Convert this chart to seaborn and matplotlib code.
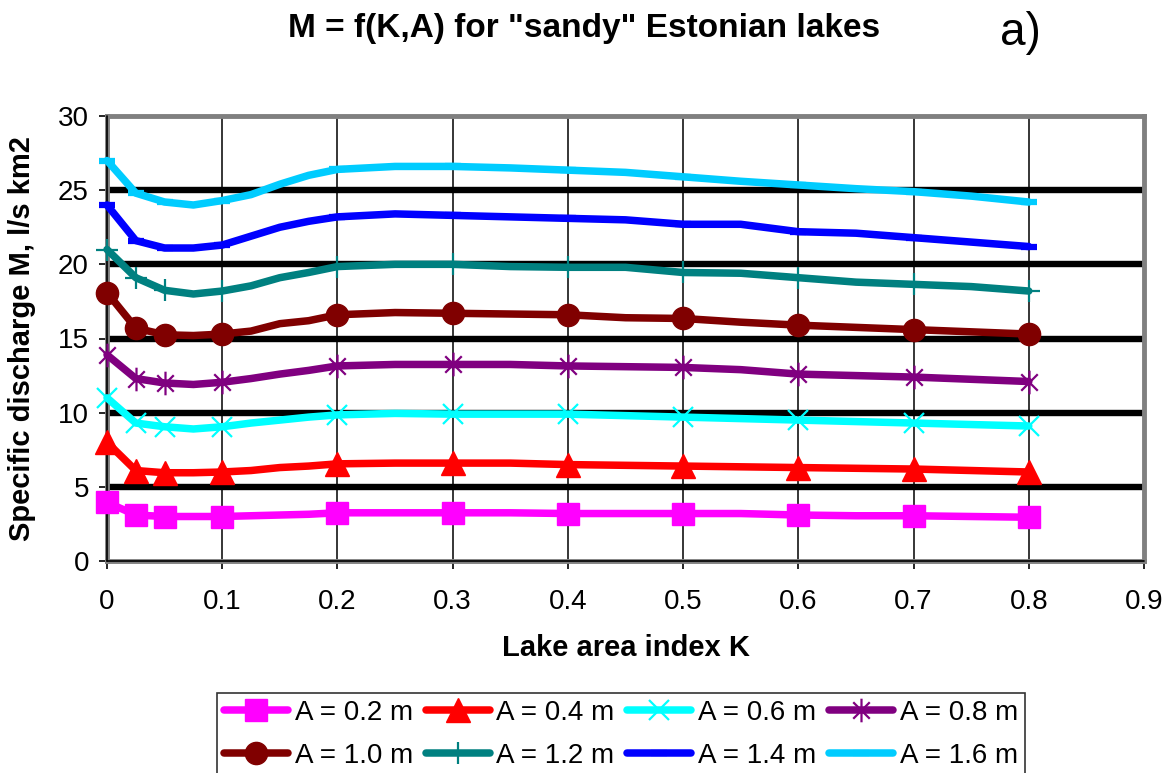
import numpy as np
import pandas as pd
import matplotlib
matplotlib.use("Agg")
import matplotlib.pyplot as plt
from matplotlib.path import Path
import seaborn as sns

# ---------------- data ----------------
K = [0, 0.025, 0.05, 0.075, 0.1, 0.125, 0.15, 0.175, 0.2, 0.25, 0.3,
     0.35, 0.4, 0.45, 0.5, 0.55, 0.6, 0.65, 0.7, 0.75, 0.8]

M_02 = [3.95, 3.1, 3.0, 3.0, 3.0, 3.05, 3.1, 3.15, 3.25, 3.25, 3.25,
        3.25, 3.2, 3.2, 3.2, 3.2, 3.1, 3.05, 3.05, 3.0, 2.95]
M_04 = [8.0, 6.1, 5.95, 5.95, 6.0, 6.1, 6.3, 6.4, 6.55, 6.6, 6.6,
        6.6, 6.5, 6.45, 6.4, 6.35, 6.3, 6.25, 6.2, 6.1, 6.0]
M_06 = [11.0, 9.3, 9.05, 8.9, 9.05, 9.3, 9.5, 9.7, 9.85, 9.95, 9.9,
        9.9, 9.9, 9.8, 9.7, 9.6, 9.5, 9.4, 9.3, 9.2, 9.1]
M_08 = [13.9, 12.3, 12.0, 11.9, 12.05, 12.3, 12.6, 12.85, 13.15, 13.25, 13.25,
        13.25, 13.15, 13.1, 13.05, 12.9, 12.6, 12.5, 12.4, 12.25, 12.1]
M_10 = [18.1, 15.7, 15.25, 15.2, 15.3, 15.5, 16.0, 16.2, 16.6, 16.75, 16.7,
        16.65, 16.6, 16.4, 16.35, 16.1, 15.9, 15.75, 15.6, 15.45, 15.3]
M_12 = [21.0, 19.1, 18.25, 18.0, 18.2, 18.55, 19.1, 19.45, 19.85, 20.0, 20.0,
        19.85, 19.8, 19.8, 19.45, 19.4, 19.1, 18.8, 18.65, 18.5, 18.2]
M_14 = [24.0, 21.6, 21.1, 21.1, 21.3, 21.9, 22.5, 22.9, 23.2, 23.4, 23.3,
        23.2, 23.1, 23.0, 22.7, 22.7, 22.2, 22.1, 21.8, 21.5, 21.2]
M_16 = [27.0, 24.8, 24.2, 24.0, 24.3, 24.7, 25.4, 26.0, 26.4, 26.6, 26.6,
        26.5, 26.35, 26.2, 25.9, 25.6, 25.35, 25.1, 24.9, 24.6, 24.2]

series_labels = ["A = 0.2 m", "A = 0.4 m", "A = 0.6 m", "A = 0.8 m",
                 "A = 1.0 m", "A = 1.2 m", "A = 1.4 m", "A = 1.6 m"]
series_values = [M_02, M_04, M_06, M_08, M_10, M_12, M_14, M_16]

marker_K = [0, 0.025, 0.05, 0.1, 0.2, 0.3, 0.4, 0.5, 0.6, 0.7, 0.8]

x_ticks = [0, 0.1, 0.2, 0.3, 0.4, 0.5, 0.6, 0.7, 0.8, 0.9]
x_tick_labels = ["0", "0.1", "0.2", "0.3", "0.4", "0.5", "0.6", "0.7", "0.8", "0.9"]
y_ticks = [0, 5, 10, 15, 20, 25, 30]

# ---------------- styles ----------------
star = Path([(-0.7, -0.7), (0.7, 0.7), (-0.7, 0.7), (0.7, -0.7), (0, -1), (0, 1)],
            [Path.MOVETO, Path.LINETO, Path.MOVETO, Path.LINETO, Path.MOVETO, Path.LINETO])

styles = [
    dict(color="#FF00FF", marker="s", markersize=16.5, mfc="#FF00FF", mec="#FF00FF", mew=1),
    dict(color="#FF0000", marker="^", markersize=17, mfc="#FF0000", mec="#FF0000", mew=1),
    dict(color="#00FFFF", marker="x", markersize=15, mfc="none", mec="#00FFFF", mew=1.6),
    dict(color="#800080", marker=star, markersize=17, mfc="none", mec="#800080", mew=1.6),
    dict(color="#800000", marker="o", markersize=16, mfc="#800000", mec="#800000", mew=1),
    dict(color="#008080", marker="+", markersize=16, mfc="none", mec="#008080", mew=1.6),
    dict(color="#0000FF", marker="_", markersize=12, mfc="#0000FF", mec="#0000FF", mew=4.5),
    dict(color="#00CCFF", marker="_", markersize=12, mfc="#00CCFF", mec="#00CCFF", mew=4.5),
]

sns.set_theme(style="white")
plt.rcParams["font.family"] = ["Liberation Sans", "DejaVu Sans"]
plt.rcParams["text.color"] = "black"

fig = plt.figure(figsize=(11.72, 7.73), dpi=100)
ax = fig.add_axes([107 / 1172, 1 - 561 / 773, (1144 - 107) / 1172, (561 - 116) / 773])

mark_idx = [K.index(k) for k in marker_K]

for lab, vals, st in zip(series_labels, series_values, styles):
    df = pd.DataFrame({"K": K, "M": vals})
    sns.lineplot(data=df, x="K", y="M", ax=ax, estimator=None, sort=False,
                 color=st["color"], linewidth=5.4, label=lab,
                 marker=st["marker"], markersize=st["markersize"],
                 markerfacecolor=st["mfc"], markeredgecolor=st["mec"],
                 markeredgewidth=st["mew"], markevery=mark_idx,
                 clip_on=False, zorder=4)

ax.set_xlim(0, 0.9)
ax.set_ylim(0, 30)
ax.set_xticks(x_ticks)
ax.set_xticklabels(x_tick_labels)
ax.set_yticks(y_ticks)

# grid: thick black horizontals (interior only), thin black verticals
ax.set_axisbelow(True)
ax.xaxis.grid(True, color="black", linewidth=1.1)
ax.yaxis.grid(True, color="black", linewidth=4.6)
for t, gl in zip(ax.get_yticks(), ax.yaxis.get_gridlines()):
    if t in (0, 30):
        gl.set_visible(False)

for sp in ax.spines.values():
    sp.set_color("#808080")
    sp.set_linewidth(3.5)
ax.axvline(0, color="black", linewidth=1.2, zorder=3, clip_on=False)
ax.axhline(0, color="black", linewidth=1.2, zorder=3, clip_on=False)

ax.tick_params(axis="both", which="major", direction="out", length=6, width=1.2,
               color="black", labelsize=20, labelcolor="black",
               bottom=True, left=True)
ax.tick_params(axis="x", pad=14)
ax.tick_params(axis="y", pad=7)

ax.set_xlabel("Lake area index K", fontsize=21, fontweight="bold", color="black")
ax.set_ylabel("Specific discharge M, l/s km2", fontsize=21, fontweight="bold", color="black")
ax.xaxis.set_label_coords(0.5, -0.163)
ax.yaxis.set_label_coords(-0.068, 0.5)

fig.text(584 / 1172, 1 - 28 / 773, 'M = f(K,A) for "sandy" Estonian lakes',
         ha="center", va="center", fontsize=24, fontweight="bold", color="black")
fig.text(1020 / 1172, 1 - 33 / 773, "a)", ha="center", va="center",
         fontsize=33, color="black")

handles, labels = ax.get_legend_handles_labels()
order = [0, 4, 1, 5, 2, 6, 3, 7]
leg = ax.legend([handles[i] for i in order], [labels[i] for i in order],
                loc="upper center", bbox_to_anchor=(621 / 1172, 1 - 693 / 773),
                bbox_transform=fig.transFigure, ncol=4, fontsize=20,
                frameon=True, fancybox=False, edgecolor="black", labelcolor="black",
                handlelength=2.3, handletextpad=0.25, columnspacing=0.45,
                borderpad=0.25, labelspacing=0.6, borderaxespad=0)
leg.get_frame().set_linewidth(1.2)

fig.savefig("out.png", dpi=100, facecolor="white")
